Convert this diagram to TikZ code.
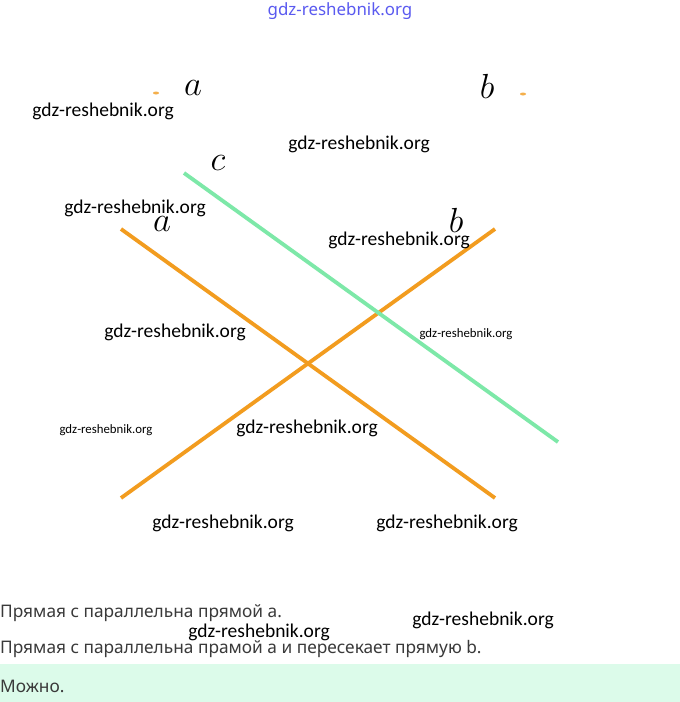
\documentclass[tikz,border=0pt]{standalone}
\usepackage{fontspec}
\setmainfont{Latin Modern Roman}
\newfontfamily\wmfont{Carlito}
\newfontfamily\txtfont{Noto Sans}
\definecolor{lorange}{HTML}{F29C1F}
\definecolor{lgreen}{HTML}{7DE8A8}
\definecolor{band}{HTML}{DCFBEA}
\definecolor{txtgray}{HTML}{3A3A3A}
\definecolor{wmblue}{HTML}{5A5AF0}
\tikzset{
  linestyle/.style={line width=3.8pt},
  wm/.style={font=\wmfont\fontsize{19.5}{21}\selectfont, text=black, inner sep=0pt},
  wmsmall/.style={font=\wmfont\fontsize{12.8}{14}\selectfont, text=black, inner sep=0pt},
  lbl/.style={font=\fontsize{24.88}{28}\selectfont, scale=1.4, inner sep=0pt},
  body/.style={font=\txtfont\fontsize{17.3}{20}\selectfont, text=txtgray, inner sep=0pt, anchor=west}
}
\begin{document}
\begin{tikzpicture}[x=1pt,y=-1pt]
\useasboundingbox (0,0) rectangle (680,702);
\fill[white] (0,0) rectangle (680,702);
\fill[band] (0,664) rectangle (680,702);
% lines
\coordinate (a1) at (121,229); \coordinate (a2) at (495,498);
\coordinate (b1) at (121,498); \coordinate (b2) at (495,229);
\coordinate (c1) at (184,173); \coordinate (c2) at (558,442);
\draw[linestyle, lorange] (a1) -- (a2);
\draw[linestyle, lorange] (b1) -- (b2);
\draw[linestyle, lgreen] (c1) -- (c2);
% labels
\node[lbl] (la) at (162,224) {$a$};
\node[lbl] (lb) at (456,220) {$b$};
\node[lbl] (lc) at (218,163) {$c$};
\node[lbl] (ta) at (193,88) {$a$};
\node[lbl] (tb) at (487,86) {$b$};
% dots
\fill[lorange, opacity=0.8] (156,93) ellipse (3pt and 1.5pt);
\fill[lorange, opacity=0.8] (523,94) ellipse (3pt and 1.5pt);
% watermarks
\node[wm] (w1) at (103,111) {gdz-reshebnik.org};
\node[wm] (w2) at (359,144) {gdz-reshebnik.org};
\node[wm] (w3) at (135,208) {gdz-reshebnik.org};
\node[wm] (w4) at (399,240) {gdz-reshebnik.org};
\node[wm] (w5) at (175,332) {gdz-reshebnik.org};
\node[wmsmall] (w6) at (466,334) {gdz-reshebnik.org};
\node[wmsmall] (w7) at (106,430) {gdz-reshebnik.org};
\node[wm] (w8) at (307,428) {gdz-reshebnik.org};
\node[wm] (w9) at (223,523) {gdz-reshebnik.org};
\node[wm] (w10) at (447,523) {gdz-reshebnik.org};
\node[wm] (w11) at (483,620) {gdz-reshebnik.org};
\node[wm] (w12) at (259,632) {gdz-reshebnik.org};
\node[font=\txtfont\fontsize{16.9}{19}\selectfont, inner sep=0pt, text=wmblue] (w0) at (340,11) {gdz-reshebnik.org};
% body text
\node[body] (t1) at (0,613) {Прямая с параллельна прямой а.};
\node[body] (t2) at (0,649) {Прямая с параллельна прамой а и пересекает прямую b.};
\node[body] (t3) at (0,686) {Можно.};
\end{tikzpicture}
\end{document}
